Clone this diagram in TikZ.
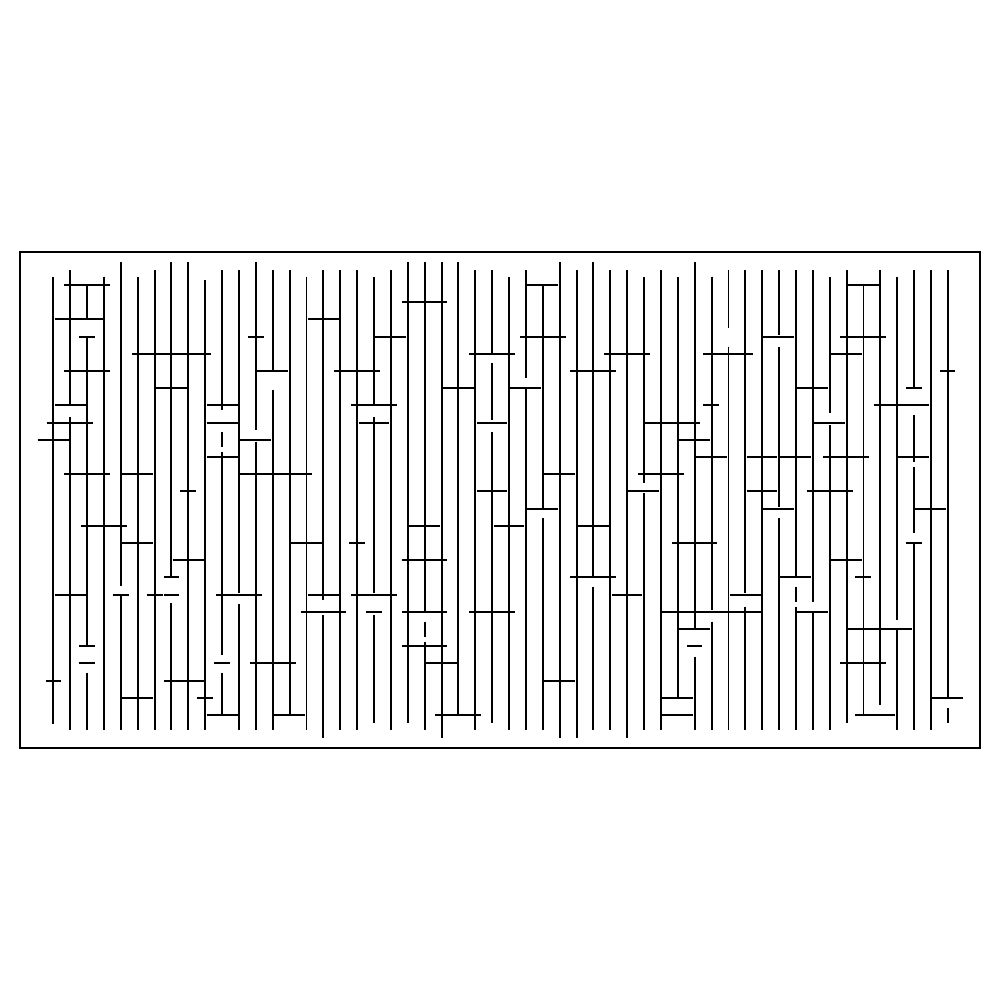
\documentclass[tikz,border=0pt]{standalone}
\begin{document}
\begin{tikzpicture}[x=0.1688cm, y=-0.172cm,
    wall/.style={line width=0.55pt},
    frame/.style={line width=0.4pt}]
  \useasboundingbox (-3.158,-16.57) rectangle (56.08,41.57);
  \draw[frame] (-1.97,-1.92) rectangle (54.9,26.92);
  % columns
  \draw[wall] (0,-0.48) -- (0,25.52);
  \draw[wall] (1,-0.87) -- (1,6.98) (1,7.65) -- (1,25.87);
  \draw[wall] (2,0) -- (2,2) (2,3) -- (2,21) (2,22.54) -- (2,25.87);
  \draw[wall] (3,-0.48) -- (3,25.87);
  \draw[wall] (4,-1.32) -- (4,17.5) (4,18) -- (4,25.87);
  \draw[wall] (5,-0.48) -- (5,25.87);
  \draw[wall] (6,-0.87) -- (6,25.87);
  \draw[wall] (7,-1.32) -- (7,17) (7,18.51) -- (7,25.87);
  \draw[wall] (8,-1.32) -- (8,25.87);
  \draw[wall] (9,-0.29) -- (9,25.87);
  \draw[wall] (10,-0.87) -- (10,7.27) (10,8.53) -- (10,9.4) (10,9.69) -- (10,21.51) (10,22.54) -- (10,25);
  \draw[wall] (11,-0.87) -- (11,17.89) (11,18.55) -- (11,25.87);
  \draw[wall] (12,-1.32) -- (12,8.43) (12,9.1) -- (12,25.87);
  \draw[wall] (13,-0.87) -- (13,4.94) (13,6.1) -- (13,25.87);
  \draw[wall] (14,-0.87) -- (14,25);
  \draw[wall] (15,-0.48) -- (15,25.87);
  \draw[wall] (16,-0.87) -- (16,18.31) (16,19.19) -- (16,26.36);
  \draw[wall] (17,-0.87) -- (17,25.87);
  \draw[wall] (18,-0.87) -- (18,25.87);
  \draw[wall] (19,-0.48) -- (19,6.98) (19,7.65) -- (19,17.93) (19,19.19) -- (19,25.48);
  \draw[wall] (20,-0.87) -- (20,25.87);
  \draw[wall] (21,-1.32) -- (21,25.48);
  \draw[wall] (22,-1.32) -- (22,19) (22,19.57) -- (22,20.45) (22,20.74) -- (22,25.87);
  \draw[wall] (23,-1.32) -- (23,26.36);
  \draw[wall] (24,-1.32) -- (24,25);
  \draw[wall] (25,-0.87) -- (25,25.87);
  \draw[wall] (26,-0.87) -- (26,4.03) (26,4.55) -- (26,7.85) (26,8.53) -- (26,25.48);
  \draw[wall] (27,-0.48) -- (27,25.87);
  \draw[wall] (28,-0.87) -- (28,5.43) (28,5.97) -- (28,25.87);
  \draw[wall] (29,0) -- (29,13) (29,13.57) -- (29,25.87);
  \draw[wall] (30,-1.32) -- (30,26.36);
  \draw[wall] (31,-0.87) -- (31,26.36);
  \draw[wall] (32,-1.32) -- (32,17) (32,17.58) -- (32,25.87);
  \draw[wall] (33,-0.87) -- (33,25.87);
  \draw[wall] (34,-0.87) -- (34,26.36);
  \draw[wall] (35,-0.48) -- (35,11.53) (35,12.11) -- (35,25.87);
  \draw[wall] (36,-0.87) -- (36,25.87);
  \draw[wall] (37,-0.48) -- (37,24);
  \draw[wall] (38,-1.32) -- (38,19.96) (38,21.61) -- (38,25.87);
  \draw[wall] (39,-0.48) -- (39,18.9) (39,19.57) -- (39,25.87);
  \draw[wall] (40,-0.87) -- (40,2.52) (40,3.59) -- (40,25.87);
  \draw[wall] (41,-0.87) -- (41,17.93) (41,18.7) -- (41,25.87);
  \draw[wall] (42,-0.87) -- (42,25.87);
  \draw[wall] (43,-0.87) -- (43,2.91) (43,3.59) -- (43,12.89) (43,13.57) -- (43,25.87);
  \draw[wall] (44,-0.87) -- (44,17) (44,17.54) -- (44,18.41) (44,18.7) -- (44,25.87);
  \draw[wall] (45,-0.87) -- (45,18.41) (45,19.09) -- (45,25.87);
  \draw[wall] (46,-0.48) -- (46,7.46) (46,8.14) -- (46,25.87);
  \draw[wall] (47,-0.87) -- (47,25.48);
  \draw[wall] (48,0) -- (48,25);
  \draw[wall] (49,-0.87) -- (49,24.42);
  \draw[wall] (50,-0.48) -- (50,19.48) (50,20) -- (50,25.87);
  \draw[wall] (51,-0.87) -- (51,5.91) (51,7.56) -- (51,10.27) (51,10.56) -- (51,14.44) (51,14.92) -- (51,25.87);
  \draw[wall] (52,-0.87) -- (52,25.87);
  \draw[wall] (53,-0.87) -- (53,24.03) (53,24.61) -- (53,25.48);
  % rows
  \draw[wall] (0.63,0) -- (3.36,0) (28.04,0) -- (29.9,0) (47.06,0) -- (48.94,0);
  \draw[wall] (20.66,1) -- (23.34,1);
  \draw[wall] (0.08,2) -- (2.92,2) (15.11,2) -- (16.93,2);
  \draw[wall] (1.54,3) -- (2.47,3) (11.53,3) -- (12.48,3) (19.06,3) -- (20.89,3) (27.65,3) -- (30.37,3) (42.03,3) -- (43.88,3) (46.6,3) -- (49.33,3);
  \draw[wall] (4.66,4) -- (9.32,4) (24.63,4) -- (27.35,4) (32.62,4) -- (35.35,4) (38.47,4) -- (41.43,4) (46.05,4) -- (47.93,4);
  \draw[wall] (0.63,5) -- (3.36,5) (12.09,5) -- (13.88,5) (16.63,5) -- (19.35,5) (30.61,5) -- (33.33,5) (52.53,5) -- (53.42,5);
  \draw[wall] (6.08,6) -- (7.9,6) (23.09,6) -- (24.9,6) (27.06,6) -- (28.87,6) (44.04,6) -- (45.88,6) (50.52,6) -- (51.46,6);
  \draw[wall] (0.08,7) -- (1.94,7) (9.08,7) -- (10.96,7) (17.64,7) -- (20.34,7) (38.47,7) -- (39.46,7) (48.62,7) -- (51.88,7);
  \draw[wall] (-0.39,8) -- (2.33,8) (9.08,8) -- (10.96,8) (18.11,8) -- (19.89,8) (25.1,8) -- (26.88,8) (35.05,8) -- (38.31,8) (45.07,8) -- (46.9,8);
  \draw[wall] (-0.93,9) -- (0.93,9) (11.06,9) -- (12.9,9) (37.09,9) -- (38.9,9);
  \draw[wall] (9.08,10) -- (10.96,10) (38.08,10) -- (39.89,10) (41.08,10) -- (42.9,10) (43.01,10) -- (44.89,10) (45.58,10) -- (48.32,10) (50.02,10) -- (51.9,10);
  \draw[wall] (0.63,11) -- (3.36,11) (4.05,11) -- (5.88,11) (11.06,11) -- (15.31,11) (29.09,11) -- (30.91,11) (34.66,11) -- (37.37,11);
  \draw[wall] (7.5,12) -- (8.45,12) (25.1,12) -- (26.88,12) (34.03,12) -- (35.9,12) (41.08,12) -- (42.9,12) (44.63,12) -- (47.4,12);
  \draw[wall] (28.04,13) -- (29.9,13) (42.03,13) -- (43.88,13) (51.05,13) -- (52.88,13);
  \draw[wall] (1.62,14) -- (4.38,14) (21.07,14) -- (22.91,14) (26.13,14) -- (27.88,14) (31.07,14) -- (32.94,14);
  \draw[wall] (4.05,15) -- (5.92,15) (14.08,15) -- (15.92,15) (17.52,15) -- (18.47,15) (36.63,15) -- (39.3,15) (50.52,15) -- (51.46,15);
  \draw[wall] (7.07,16) -- (8.93,16) (20.67,16) -- (23.3,16) (46.07,16) -- (47.91,16);
  \draw[wall] (6.56,17) -- (7.46,17) (30.61,17) -- (33.33,17) (43.05,17) -- (44.89,17) (47.49,17) -- (48.44,17);
  \draw[wall] (0.08,18) -- (1.94,18) (3.51,18) -- (4.5,18) (5.53,18) -- (6.48,18) (6.56,18) -- (7.46,18) (9.64,18) -- (12.36,18) (15.11,18) -- (16.93,18) (17.64,18) -- (20.34,18) (33.1,18) -- (34.88,18) (40.09,18) -- (41.93,18);
  \draw[wall] (14.67,19) -- (17.34,19) (18.52,19) -- (19.47,19) (20.67,19) -- (23.3,19) (24.63,19) -- (27.35,19) (36.04,19) -- (41.93,19) (44.04,19) -- (45.88,19);
  \draw[wall] (37.07,20) -- (38.9,20) (47.06,20) -- (50.85,20);
  \draw[wall] (1.5,21) -- (2.49,21) (20.67,21) -- (23.3,21) (37.52,21) -- (38.45,21);
  \draw[wall] (1.5,22) -- (2.49,22) (9.52,22) -- (10.47,22) (11.65,22) -- (14.36,22) (22.08,22) -- (23.9,22) (46.6,22) -- (49.33,22);
  \draw[wall] (-0.43,23) -- (0.47,23) (6.56,23) -- (8.93,23) (29.07,23) -- (30.91,23);
  \draw[wall] (4.05,24) -- (5.92,24) (8.49,24) -- (9.48,24) (36.04,24) -- (37.91,24) (52.03,24) -- (53.87,24);
  \draw[wall] (9.08,25) -- (10.96,25) (13.07,25) -- (14.91,25) (22.61,25) -- (25.32,25) (36.04,25) -- (37.91,25) (47.49,25) -- (49.86,25);
\end{tikzpicture}
\end{document}
